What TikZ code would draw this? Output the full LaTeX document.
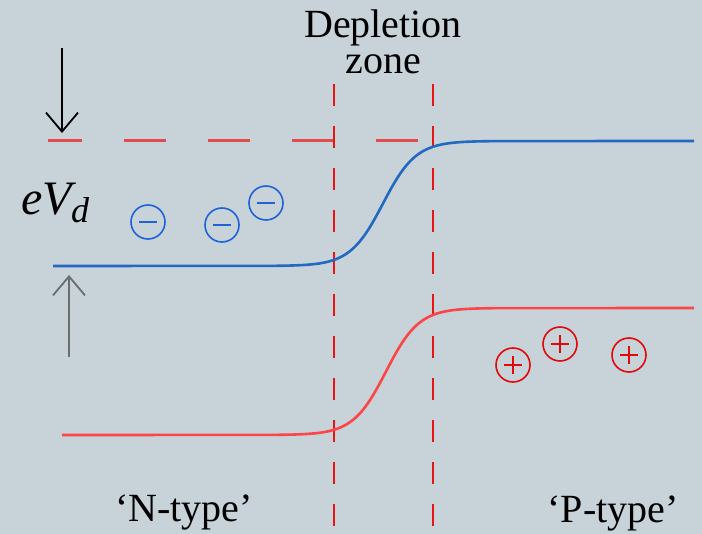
\documentclass[tikz,border=0pt]{standalone}
\usepackage{fontspec}
\setmainfont{Liberation Serif}
\usetikzlibrary{arrows.meta}
\definecolor{bg}{RGB}{199,210,217}
\definecolor{bandblue}{RGB}{35,105,195}
\definecolor{bandred}{RGB}{250,70,70}
\definecolor{dashred}{RGB}{232,20,20}
\definecolor{hdashred}{RGB}{225,75,75}
\definecolor{chargeblue}{RGB}{30,100,215}
\definecolor{chargered}{RGB}{225,10,10}
\tikzset{
  lbl/.style={inner sep=0pt, font=\fontsize{20}{23}\selectfont},
  vdash/.style={dashred, line width=1.4pt, dash pattern=on 11pt off 10pt},
  hdash/.style={hdashred, line width=1.5pt, dash pattern=on 21pt off 21pt, dash phase=4pt},
  band/.style={line width=1.3pt},
  negcharge/.style={circle, draw=chargeblue, line width=0.8pt, minimum size=17pt, inner sep=0pt,
    path picture={\draw[chargeblue, line width=1pt] ([xshift=-4.3pt]path picture bounding box.center) -- ([xshift=4.3pt]path picture bounding box.center);}},
  poscharge/.style={circle, draw=chargered, line width=0.8pt, minimum size=17pt, inner sep=0pt,
    path picture={\draw[chargered, line width=1pt] ([xshift=-4.3pt]path picture bounding box.center) -- ([xshift=4.3pt]path picture bounding box.center);
      \draw[chargered, line width=1pt] ([yshift=-4.3pt]path picture bounding box.center) -- ([yshift=4.3pt]path picture bounding box.center);}},
  barb/.style={-{Straight Barb[length=9.5pt,width=16pt]}, line width=0.9pt},
}
\begin{document}
\begin{tikzpicture}[x=0.5pt,y=-0.5pt]
\fill[bg] (0,0) rectangle (702,534);
\useasboundingbox (0,0) rectangle (702,534);
% labels
\node[lbl, anchor=base] (dep) at (383,38) {Depletion};
\node[lbl, anchor=base] (zone) at (383,74) {zone};
\node[lbl, anchor=base] (ntype) at (184,521) {`N-type'};
\node[lbl, anchor=base] (ptype) at (613,522) {`P-type'};
\node[inner sep=0pt, anchor=base west, font=\fontsize{24}{26}\selectfont\itshape] (evd) at (21,215) {eV\kern-0.5pt\raisebox{-4pt}{\fontsize{18}{18}\selectfont d}};
% dashed lines
\coordinate (h1) at (48,141);
\coordinate (h2) at (432,141);
\draw[hdash] (h1) -- (h2);
\coordinate (v1t) at (334,84);
\coordinate (v1b) at (334,534);
\coordinate (v2t) at (433,84);
\coordinate (v2b) at (433,534);
\draw[vdash] (v1t) -- (v1b);
\draw[vdash] (v2t) -- (v2b);
% bands
\coordinate (bl) at (53,266);
\coordinate (br) at (694,141);
\draw[band, bandblue] (bl) -- plot[domain=270:500, samples=100] (\x,{266-125*(1+tanh((\x-383)/33))/2}) -- (br);
\coordinate (rl) at (62,435);
\coordinate (rr) at (694,308);
\draw[band, bandred] (rl) -- plot[domain=270:500, samples=100] (\x,{435-127*(1+tanh((\x-386)/33))/2}) -- (rr);
% arrows
\coordinate (a1s) at (62,48);
\coordinate (a1e) at (62,133);
\draw[barb, black] (a1s) -- (a1e);
\coordinate (a2s) at (69,357);
\coordinate (a2e) at (69,275);
\draw[barb, gray!85!black] (a2s) -- (a2e);
% charges
\node[negcharge] (m1) at (148,222) {};
\node[negcharge] (m2) at (222,225) {};
\node[negcharge] (m3) at (266,203) {};
\node[poscharge] (p1) at (513,365) {};
\node[poscharge] (p2) at (560,344) {};
\node[poscharge] (p3) at (629,355) {};
\end{tikzpicture}
\end{document}
